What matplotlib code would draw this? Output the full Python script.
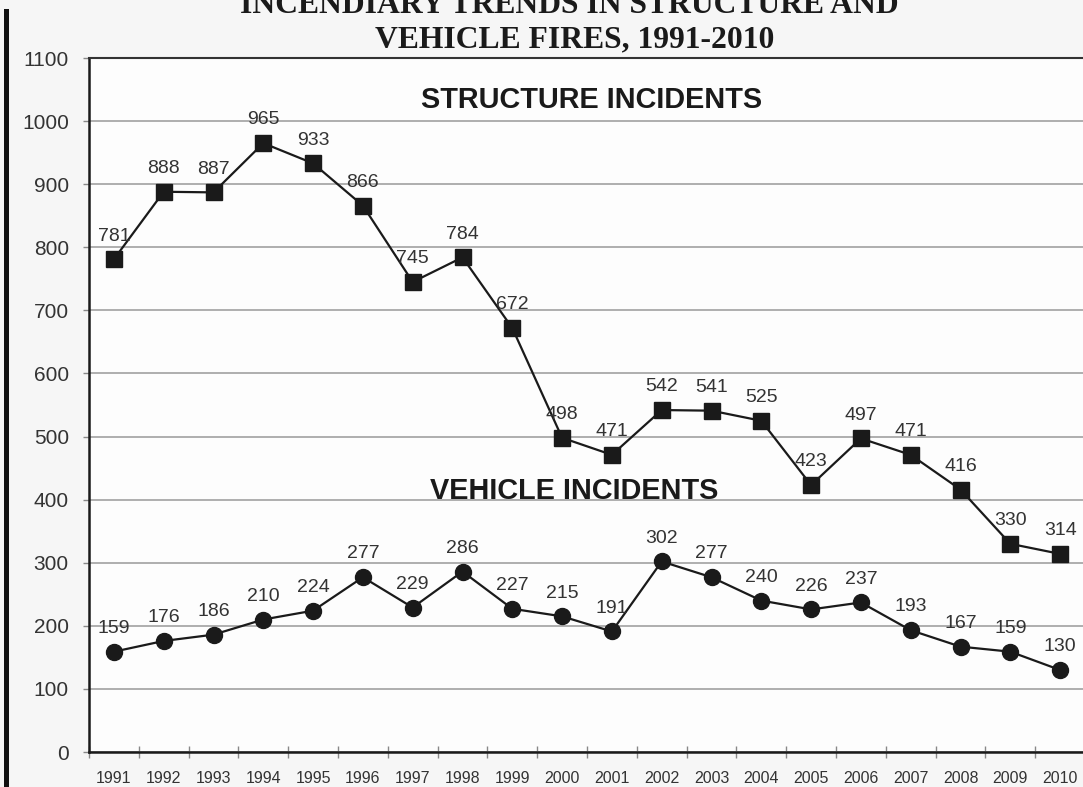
import matplotlib
matplotlib.use("Agg")
import matplotlib.pyplot as plt
from matplotlib.patches import Rectangle
import numpy as np

years = ["1991", "1992", "1993", "1994", "1995", "1996", "1997", "1998", "1999", "2000",
         "2001", "2002", "2003", "2004", "2005", "2006", "2007", "2008", "2009", "2010"]
structure = [781, 888, 887, 965, 933, 866, 745, 784, 672, 498,
             471, 542, 541, 525, 423, 497, 471, 416, 330, 314]
vehicle = [159, 176, 186, 210, 224, 277, 229, 286, 227, 215,
           191, 302, 277, 240, 226, 237, 193, 167, 159, 130]
y_ticks = list(range(0, 1101, 100))

W, H = 1083, 787
DPI = 100
plt.rcParams['font.family'] = ['Liberation Sans', 'DejaVu Sans']

fig = plt.figure(figsize=(W / DPI, H / DPI), dpi=DPI, facecolor='#f6f6f6')

# axes placement in pixels
L, R, T, B = 89, 1085, 58, 752
ax = fig.add_axes([L / W, 1 - B / H, (R - L) / W, (B - T) / H])
ax.set_facecolor('#fdfdfd')

x = np.arange(len(years))
ax.set_xlim(-0.5, len(years) - 0.5)
ax.set_ylim(0, 1100)

# grid
ax.set_yticks(y_ticks)
ax.yaxis.grid(True, color='#a8a8a8', linewidth=1.3)
ax.set_axisbelow(True)

ax.plot(x, structure, color='#1a1a1a', linewidth=1.6, marker='s', markersize=11.5,
        markerfacecolor='#1a1a1a', markeredgecolor='#1a1a1a', zorder=3, clip_on=False)
ax.plot(x, vehicle, color='#1a1a1a', linewidth=1.6, marker='o', markersize=11.5,
        markerfacecolor='#1a1a1a', markeredgecolor='#1a1a1a', zorder=3, clip_on=False)

for xi, v in zip(x, structure):
    ax.annotate(str(v), (xi, v), xytext=(0, 13.5), textcoords='offset points',
                ha='center', va='baseline', fontsize=14, color='#333333', zorder=4)
for xi, v in zip(x, vehicle):
    ax.annotate(str(v), (xi, v), xytext=(0, 13.5), textcoords='offset points',
                ha='center', va='baseline', fontsize=14, color='#333333', zorder=4)

# spines
for s in ['left', 'bottom']:
    ax.spines[s].set_color('#1a1a1a')
    ax.spines[s].set_linewidth(1.8)
ax.spines['top'].set_color('#333333')
ax.spines['top'].set_linewidth(1.5)
ax.spines['right'].set_visible(False)

# y tick labels
ax.tick_params(axis='y', which='major', length=4.5, width=1.0, color='#888888',
               labelsize=15, labelcolor='#333333', pad=10)

# x ticks: boundary ticks (major), labels at categories (minor)
ax.set_xticks(np.arange(-0.5, len(years), 1.0))
ax.set_xticklabels([])
ax.set_xticks(x, minor=True)
ax.set_xticklabels(years, minor=True)
ax.tick_params(axis='x', which='major', direction='inout', length=8, width=1.0, color='#888888')
ax.tick_params(axis='x', which='minor', length=0, labelsize=11.5, labelcolor='#333333', pad=14)

# series captions
def px(xp, yp):
    return xp / W, 1 - yp / H

fig.text(*px(592, 108), "STRUCTURE INCIDENTS", ha='center', va='baseline',
         fontsize=20.8, fontweight='bold', color='#1a1a1a')
fig.text(*px(574, 499), "VEHICLE INCIDENTS", ha='center', va='baseline',
         fontsize=20.8, fontweight='bold', color='#1a1a1a')

# title (top line partly cut off, as in the original)
fig.text(*px(569, 13), "INCENDIARY TRENDS IN STRUCTURE AND", ha='center', va='baseline',
         fontsize=22.8, fontweight='bold', color='#1a1a1a', family=['Liberation Serif'])
fig.text(*px(575, 47), "VEHICLE FIRES, 1991-2010", ha='center', va='baseline',
         fontsize=22.8, fontweight='bold', color='#1a1a1a', family=['Liberation Serif'])

# thick vertical bar at left edge
fig.patches.append(Rectangle((3.5 / W, 0), 5 / W, 1 - 9 / H, transform=fig.transFigure,
                             facecolor='#111111', edgecolor='none'))

fig.savefig('out.png', dpi=DPI, facecolor=fig.get_facecolor())
